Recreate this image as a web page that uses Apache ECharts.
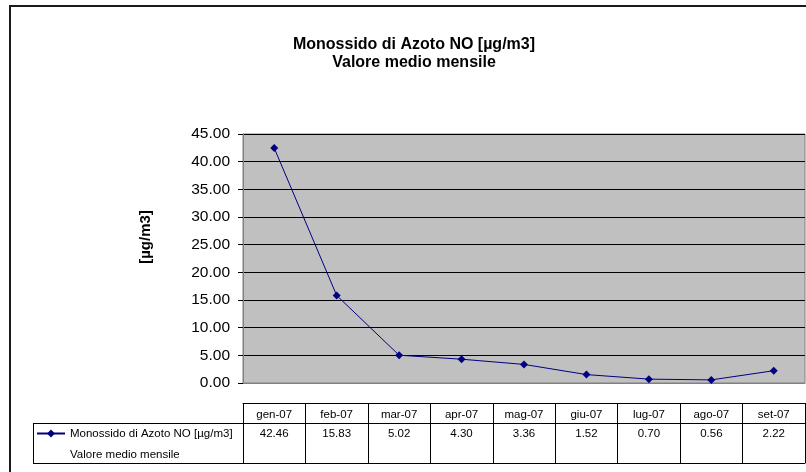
<!DOCTYPE html>
<html>
<head>
<meta charset="utf-8">
<script src="https://cdn.jsdelivr.net/npm/echarts@6/dist/echarts.min.js"></script>
<style>html,body{margin:0;padding:0;background:#fff}#c{width:806px;height:472px}</style>
</head>
<body>
<div id="c"></div>
<script>
var categories = ['gen-07','feb-07','mar-07','apr-07','mag-07','giu-07','lug-07','ago-07','set-07'];
var values = [42.46, 15.83, 5.02, 4.30, 3.36, 1.52, 0.70, 0.56, 2.22];
var seriesName = 'Monossido di Azoto NO [µg/m3]\nValore medio mensile';
var titleText = 'Monossido di Azoto NO [µg/m3]\nValore medio mensile';
var yAxisTitle = '[µg/m3]';

var FONT = '"Liberation Sans", Arial, sans-serif';
var chart = echarts.init(document.getElementById('c'), null, {renderer: 'canvas'});
var option = {
  animation: false,
  backgroundColor: '#ffffff',
  title: {
    text: titleText,
    left: 414, top: 36, textAlign: 'center', padding: 0,
    textStyle: {fontFamily: FONT, fontSize: 16, fontWeight: 'bold', color: '#000', lineHeight: 18}
  },
  legend: {
    show: true,
    left: 36, top: 402, padding: 0,
    itemWidth: 28, itemHeight: 10,
    formatter: function(name){ return '\n' + name; },
    textStyle: {fontFamily: FONT, fontSize: 11.5, color: '#000', lineHeight: 21},
    data: [seriesName]
  },
  grid: {
    left: 243, right: 1, top: 134, bottom: 89,
    show: true, backgroundColor: '#c0c0c0', borderColor: '#808080', borderWidth: 1,
    containLabel: false
  },
  xAxis: [
    {
      type: 'category', data: categories, boundaryGap: true, position: 'bottom',
      axisLine: {show: true, lineStyle: {color: '#808080'}},
      axisTick: {show: false}, axisLabel: {show: false}, splitLine: {show: false}
    },
    {
      type: 'category', data: categories, boundaryGap: true, position: 'bottom', offset: 20,
      axisLine: {show: true, lineStyle: {color: '#000', width: 1}},
      axisTick: {show: true, length: 60, interval: 0, lineStyle: {color: '#000'}},
      axisLabel: {show: true, interval: 0, margin: 6, fontFamily: FONT, fontSize: 11.5, color: '#000'},
      splitLine: {show: false}
    },
    {
      type: 'category', data: values.map(function(v){return v.toFixed(2);}), boundaryGap: true, position: 'bottom', offset: 40,
      axisLine: {show: true, lineStyle: {color: '#000', width: 1}},
      axisTick: {show: false},
      axisLabel: {show: true, interval: 0, margin: 5, fontFamily: FONT, fontSize: 11.5, color: '#000'},
      splitLine: {show: false}
    },
    {
      type: 'category', data: categories, boundaryGap: true, position: 'bottom', offset: 80,
      axisLine: {show: true, lineStyle: {color: '#000', width: 1}},
      axisTick: {show: false}, axisLabel: {show: false}, splitLine: {show: false}
    }
  ],
  yAxis: {
    type: 'value', min: 0, max: 45, interval: 5,
    axisLine: {show: true, lineStyle: {color: '#808080'}},
    axisTick: {show: true, length: 5, lineStyle: {color: '#000'}},
    axisLabel: {margin: 13, fontFamily: FONT, fontSize: 15.5, color: '#000',
      formatter: function(v){return v.toFixed(2);}},
    splitLine: {show: true, lineStyle: {color: '#000', width: 1}}
  },
  series: [{
    name: seriesName, type: 'line', data: values, xAxisIndex: 0,
    symbol: 'diamond', symbolSize: 8, showSymbol: true,
    itemStyle: {color: '#000080'},
    lineStyle: {color: '#000080', width: 1}
  }],
  graphic: [
    {type: 'rect', shape: {x: 10, y: 6, width: 810, height: 480}, style: {fill: 'none', stroke: '#1a1a1a', lineWidth: 2}, silent: true},
    {type: 'text', x: 146, y: 237, rotation: Math.PI / 2,
      style: {text: yAxisTitle, fontFamily: FONT, fontSize: 15, fontWeight: 'bold', fill: '#000', align: 'center', verticalAlign: 'middle'}},
    {type: 'line', shape: {x1: 33, y1: 423.5, x2: 243, y2: 423.5}, style: {stroke: '#000', lineWidth: 1}},
    {type: 'line', shape: {x1: 33, y1: 463.5, x2: 243, y2: 463.5}, style: {stroke: '#000', lineWidth: 1}},
    {type: 'line', shape: {x1: 33.5, y1: 423, x2: 33.5, y2: 464}, style: {stroke: '#000', lineWidth: 1}}
  ]
};
chart.setOption(option);
</script>
</body>
</html>
